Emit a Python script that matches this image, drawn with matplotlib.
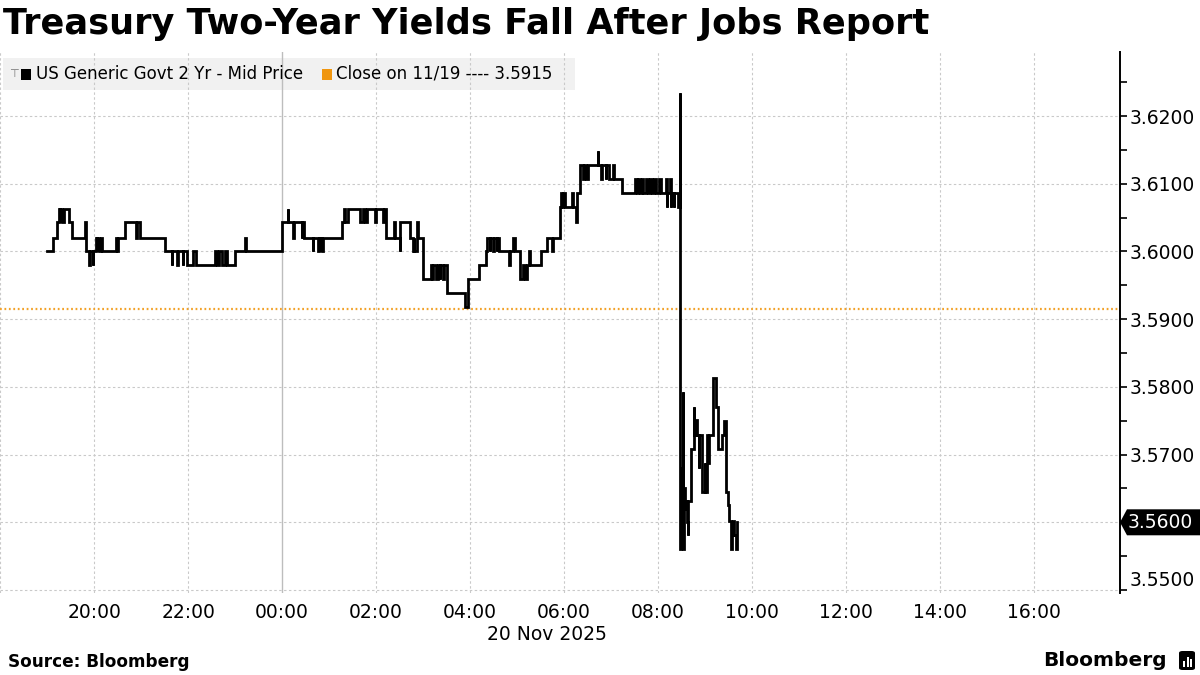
import matplotlib
matplotlib.use("Agg")
import matplotlib.pyplot as plt
from matplotlib.patches import Rectangle, Polygon, FancyBboxPatch
from datetime import datetime

# ---------------- data ----------------
title = "Treasury Two-Year Yields Fall After Jobs Report"
series_label = "US Generic Govt 2 Yr - Mid Price"
close_label = "Close on 11/19 ---- 3.5915"
close_value = 3.5915
last_label_value = 3.5600
date_label = "20 Nov 2025"
source_text = "Source: Bloomberg"

y_ticks = [3.55, 3.56, 3.57, 3.58, 3.59, 3.60, 3.61, 3.62]
y_minor_ticks = [3.555, 3.565, 3.575, 3.585, 3.595, 3.605, 3.615, 3.625]
grid_hours = ["18:00", "20:00", "22:00", "00:00", "02:00", "04:00", "06:00",
              "08:00", "10:00", "12:00", "14:00", "16:00"]
x_tick_labels = ["20:00", "22:00", "00:00", "02:00", "04:00", "06:00",
                 "08:00", "10:00", "12:00", "14:00", "16:00"]
x_start = datetime(2025, 11, 19, 17, 59, 45)
x_end = datetime(2025, 11, 20, 17, 50, 0)

times = [
    "19:00", "19:07", "19:12", "19:15", "19:16", "19:17", "19:19", "19:21", "19:28", "19:32",
    "19:48", "19:49", "19:54", "19:55", "19:58", "19:59", "20:02", "20:03", "20:04", "20:06",
    "20:09", "20:10", "20:28", "20:29", "20:30", "20:40", "20:54", "20:55", "20:58", "21:30",
    "21:39", "21:40", "21:46", "21:47", "21:53", "21:54", "21:58", "22:06", "22:10", "22:34",
    "22:37", "22:40", "22:43", "22:47", "22:49", "23:00", "23:12", "23:14",
    "00:00", "00:07", "00:08", "00:14", "00:15", "00:25", "00:26", "00:28", "00:39", "00:40",
    "00:46", "00:47", "00:48", "00:49", "00:51", "00:52", "01:16", "01:19", "01:20", "01:24",
    "01:39", "01:43", "01:46", "01:48", "01:58", "02:00", "02:09", "02:10", "02:13", "02:23",
    "02:24", "02:30", "02:31", "02:43", "02:47", "02:48", "02:49", "02:52", "02:53",
    "03:00", "03:10", "03:11", "03:13", "03:16", "03:19", "03:21", "03:22", "03:25", "03:27",
    "03:30", "03:54", "03:58", "04:11", "04:21", "04:22", "04:25", "04:26", "04:29", "04:31",
    "04:34", "04:35", "04:37", "04:50", "04:51", "04:55", "04:58", "05:04", "05:07", "05:10",
    "05:13", "05:15", "05:17", "05:30", "05:38", "05:45", "05:46", "05:55", "05:56", "05:57",
    "05:59", "06:01", "06:10", "06:11", "06:15", "06:16", "06:17", "06:20", "06:21", "06:24",
    "06:26", "06:28", "06:30", "06:43", "06:44", "06:47", "06:49", "06:53", "06:54", "06:57",
    "07:03", "07:04", "07:14", "07:31", "07:33", "07:35", "07:37", "07:40", "07:41", "07:45",
    "07:47", "07:50", "07:52", "07:55", "07:58", "08:01", "08:04", "08:10", "08:11", "08:12",
    "08:15", "08:16", "08:17", "08:20", "08:21", "08:25",
    "08:28:00", "08:28:20", "08:29:35", "08:30:10", "08:31:25", "08:32:00", "08:32:45",
    "08:34:00", "08:35:15", "08:36:30", "08:37:50", "08:38:30", "08:42:30", "08:45:50",
    "08:46:30", "08:48:00", "08:49:20", "08:51:50", "08:52:30", "08:56:35", "08:59:30",
    "09:00:10", "09:03:00", "09:04:00", "09:05:00", "09:10:10", "09:13:35", "09:14:30",
    "09:17:00", "09:21:15", "09:24:10", "09:27:15", "09:28:55", "09:30:35", "09:33:40",
    "09:34:40", "09:36:10", "09:37:15", "09:39:10", "09:40:25",
]
yields = [
    3.6000, 3.6020, 3.6043, 3.6063, 3.6043, 3.6063, 3.6043, 3.6063, 3.6043, 3.6020,
    3.6043, 3.6000, 3.5980, 3.6000, 3.5980, 3.6000, 3.6020, 3.6000, 3.6020, 3.6000,
    3.6020, 3.6000, 3.6020, 3.6000, 3.6020, 3.6043, 3.6020, 3.6043, 3.6020, 3.6000,
    3.5980, 3.6000, 3.5980, 3.6000, 3.5980, 3.6000, 3.5980, 3.6000, 3.5980, 3.6000,
    3.5980, 3.6000, 3.5980, 3.6000, 3.5980, 3.6000, 3.6020, 3.6000,
    3.6043, 3.6063, 3.6043, 3.6020, 3.6043, 3.6020, 3.6043, 3.6020, 3.6000, 3.6020,
    3.6000, 3.6020, 3.6000, 3.6020, 3.6000, 3.6020, 3.6043, 3.6063, 3.6043, 3.6063,
    3.6043, 3.6063, 3.6043, 3.6063, 3.6043, 3.6063, 3.6043, 3.6063, 3.6020, 3.6043,
    3.6020, 3.6000, 3.6043, 3.6020, 3.6000, 3.6020, 3.6000, 3.6043, 3.6020,
    3.5960, 3.5980, 3.5960, 3.5980, 3.5960, 3.5980, 3.5960, 3.5980, 3.5960, 3.5980,
    3.5939, 3.5918, 3.5960, 3.5980, 3.6000, 3.6020, 3.6000, 3.6020, 3.6000, 3.6020,
    3.6000, 3.6020, 3.6000, 3.5980, 3.6000, 3.6020, 3.6000, 3.5960, 3.5980, 3.5960,
    3.5980, 3.6000, 3.5980, 3.6000, 3.6020, 3.6000, 3.6020, 3.6065, 3.6086, 3.6065,
    3.6086, 3.6065, 3.6086, 3.6065, 3.6044, 3.6065, 3.6086, 3.6107, 3.6128, 3.6107,
    3.6128, 3.6107, 3.6128, 3.6149, 3.6128, 3.6107, 3.6128, 3.6107, 3.6128, 3.6107,
    3.6128, 3.6107, 3.6086, 3.6107, 3.6086, 3.6107, 3.6086, 3.6107, 3.6086, 3.6107,
    3.6086, 3.6107, 3.6086, 3.6107, 3.6086, 3.6107, 3.6086, 3.6107, 3.6065, 3.6086,
    3.6107, 3.6065, 3.6086, 3.6065, 3.6086, 3.6065,
    3.6234, 3.5560, 3.5680, 3.5630, 3.5792, 3.5560, 3.5650,
    3.5620, 3.5631, 3.5600, 3.5581, 3.5631, 3.5708, 3.5771,
    3.5729, 3.5751, 3.5729, 3.5680, 3.5729, 3.5645, 3.5687,
    3.5645, 3.5729, 3.5687, 3.5729, 3.5813, 3.5792, 3.5771,
    3.5708, 3.5729, 3.5750, 3.5645, 3.5625, 3.5602, 3.5560,
    3.5581, 3.5602, 3.5581, 3.5560, 3.5600,
]


def to_dt(s):
    """Session runs from 18:00 on 19 Nov to 18:00 on 20 Nov."""
    parts = [int(p) for p in s.split(":")]
    h, m = parts[0], parts[1]
    sec = parts[2] if len(parts) > 2 else 0
    day = 19 if h >= 18 else 20
    return datetime(2025, 11, day, h, m, sec)


tx = [to_dt(t) for t in times]

# ---------------- figure ----------------
W, H = 1200, 675
fig = plt.figure(figsize=(W / 100, H / 100), dpi=100)
fig.patch.set_facecolor("white")
ax = fig.add_axes([0.0, 1 - 593.4 / H, 1120 / W, (593.4 - 51.7) / H])
ax.set_facecolor("white")

ax.set_xlim(x_start, x_end)
ax.set_ylim(3.5495, 3.6295)

grid_col = "#c9c9c9"
for g in grid_hours:
    d = to_dt(g)
    if g == "00:00":
        ax.axvline(d, color="#bdbdbd", lw=1.0, zorder=1)
    else:
        ax.axvline(d, color=grid_col, lw=0.8, ls=(0, (2.2, 2.2)), zorder=1)
for v in y_ticks:
    ax.axhline(v, color=grid_col, lw=0.8, ls=(0, (2.2, 2.2)), zorder=1)

# legend background box
ax.add_patch(Rectangle((3 / 1120, (593.4 - 90) / 541.7), 572 / 1120, 32 / 541.7,
                       transform=ax.transAxes, facecolor="#f1f1f1", edgecolor="none",
                       zorder=0.5))

# close line
ax.axhline(close_value, color="#f2a22a", lw=1.6, ls=(0, (0.8, 1.2)), zorder=2)

# series
ax.step(tx, yields, where="post", color="black", lw=2.0, zorder=3,
        solid_joinstyle="miter")

# spines
for s in ["top", "left", "bottom"]:
    ax.spines[s].set_visible(False)
ax.spines["right"].set_color("black")
ax.spines["right"].set_linewidth(1.4)

# y axis
ax.yaxis.tick_right()
ax.set_yticks(y_ticks)
ax.set_yticklabels([f"{v:.4f}" for v in y_ticks])
ax.set_yticks(y_minor_ticks, minor=True)
ax.tick_params(axis="y", which="major", direction="out", length=5, width=1.2,
               colors="black", labelsize=13.5, pad=2)
ax.tick_params(axis="y", which="minor", direction="out", length=5, width=1.2,
               colors="black")
for lab in ax.get_yticklabels():
    if lab.get_text() == "3.5500":
        lab.set_verticalalignment("bottom")

# x axis
ax.set_xticks([to_dt(t) for t in x_tick_labels])
ax.set_xticklabels(x_tick_labels)
ax.tick_params(axis="x", which="both", length=0, labelsize=13.5, pad=7, colors="black")

fig.text(547 / W, 1 - 634 / H, date_label, fontsize=13.5, ha="center", va="center")

# title
fig.text(3 / W, 1 - 24 / H, title, fontsize=25.3, fontweight="bold", ha="left",
         va="center")

# legend items
ly = 1 - 74 / H
fig.text(13.5 / W, ly, "\u22a4", fontsize=8, color="#777777", ha="center", va="center")
fig.patches.append(Rectangle((21 / W, 1 - 80 / H), 10 / W, 11 / H, transform=fig.transFigure,
                             facecolor="black", edgecolor="none", figure=fig))
fig.text(36 / W, ly, series_label, fontsize=12, ha="left", va="center")
fig.patches.append(Rectangle((322 / W, 1 - 80 / H), 10 / W, 11 / H, transform=fig.transFigure,
                             facecolor="#f0960f", edgecolor="none", figure=fig))
fig.text(336 / W, ly, close_label, fontsize=12, ha="left", va="center")

# last value tag
fig.canvas.draw()
yd = ax.transData.transform((ax.get_xlim()[0], last_label_value))[1]
xr = ax.transAxes.transform((1, 0))[0]
hh = 13
tag = Polygon([(xr, yd), (xr + 7, yd + hh), (W, yd + hh), (W, yd - hh), (xr + 7, yd - hh)],
              closed=True, transform=None, facecolor="black", edgecolor="none", zorder=5)
fig.patches.append(tag)
fig.text((xr + 8) / W, yd / H, f"{last_label_value:.4f}", fontsize=13.5, color="white",
         ha="left", va="center", zorder=6)

# footer
fig.text(8 / W, 1 - 662 / H, source_text, fontsize=12.2, fontweight="bold", ha="left",
         va="center")
fig.text(1167 / W, 1 - 660 / H, "Bloomberg", fontsize=14.5, fontweight="bold", ha="right",
         va="center")
icon = FancyBboxPatch((1179 / W, 1 - 670 / H), 16 / W, 19 / H,
                      boxstyle="round,pad=0,rounding_size=0.003",
                      transform=fig.transFigure, facecolor="black", edgecolor="none")
fig.patches.append(icon)
for bx, bh in [(1183, 6), (1186.5, 10), (1190, 8)]:
    fig.patches.append(Rectangle((bx / W, 1 - 667 / H), 2 / W, bh / H,
                                 transform=fig.transFigure, facecolor="white",
                                 edgecolor="none"))

fig.savefig("out.png", dpi=100, facecolor="white")
